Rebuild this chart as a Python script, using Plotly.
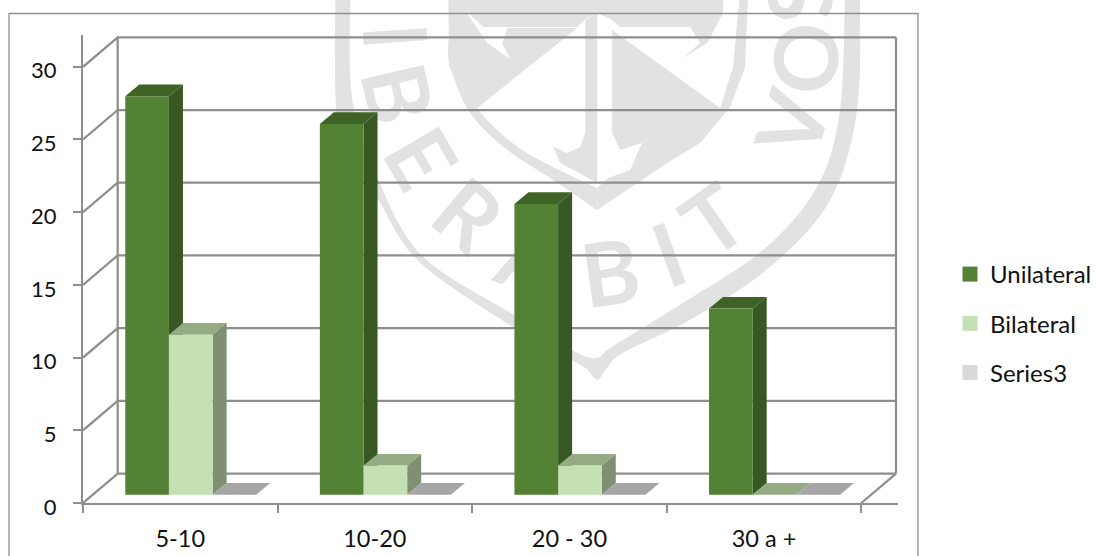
import plotly.graph_objects as go

# Survey counts per tenure band
categories = ["5-10", "10-20", "20 - 30", "30 a +"]
series_names = ["Unilateral", "Bilateral", "Series3"]
unilateral = [27.4, 25.5, 20, 12.8]
bilateral = [11, 2, 2, 0]
series3 = [0, 0, 0, 0]
y_ticks = [0, 5, 10, 15, 20, 25, 30]

# Canvas and plot box, in pixels
W, H = 1096, 556
L, R, T, B = 82.5, 898.0, 35.0, 503.3
PX_PER_CAT = 194.7
PX_PER_VAL = 14.55
x_max = (R - L) / PX_PER_CAT
y_max = (B - T) / PX_PER_VAL

# Oblique projection of the box depth, in axis units
DEPTH_X = 34.7 / PX_PER_CAT
DEPTH_Y = 29.5 / PX_PER_VAL
BAR_W = 43.7 / PX_PER_CAT
GAP = (1 - 3 * BAR_W) / 2
BASE_X = 10.5 / PX_PER_CAT
BASE_Y = 8.3 / PX_PER_VAL
BAR_DX = 14.0 / PX_PER_CAT
BAR_DY = 11.7 / PX_PER_VAL

GRID = "#8e8e8e"
TEXT = "#111111"
SEAL = "#e2e2e2"
FONT = "Lato"

STYLES = [
    {"front": "#548235", "side": "#385723", "top": "#3f6327", "key": "#548235"},
    {"front": "#c5e0b4", "side": "#7f8f72", "top": "#94ab84", "key": "#c5e0b4"},
    {"front": "#d9d9d9", "side": "#8a8a8a", "top": "#a6a6a6", "key": "#d9d9d9"},
]


def px(x):
    return (x - L) / (R - L)


def py(y):
    return (B - y) / (B - T)


def polygon(points):
    return "M" + " L".join(f"{px(a):.5f},{py(b):.5f}" for a, b in points) + " Z"


def smooth(points):
    """Catmull-Rom curve through the points, as SVG path segments."""
    out = []
    for i in range(len(points) - 1):
        p0 = points[max(i - 1, 0)]
        p1 = points[i]
        p2 = points[i + 1]
        p3 = points[min(i + 2, len(points) - 1)]
        c1 = (p1[0] + (p2[0] - p0[0]) / 6, p1[1] + (p2[1] - p0[1]) / 6)
        c2 = (p2[0] - (p3[0] - p1[0]) / 6, p2[1] - (p3[1] - p1[1]) / 6)
        out.append(
            f"C{px(c1[0]):.5f},{py(c1[1]):.5f} {px(c2[0]):.5f},{py(c2[1]):.5f} "
            f"{px(p2[0]):.5f},{py(p2[1]):.5f}"
        )
    return " ".join(out)


def smooth_band(first, second):
    start = f"M{px(first[0][0]):.5f},{py(first[0][1]):.5f} "
    return (
        start + smooth(first)
        + f" L{px(second[0][0]):.5f},{py(second[0][1]):.5f} "
        + smooth(second) + " Z"
    )


# University seal printed behind the chart
seal_paths = [
    smooth_band(
        [(335, -8), (336, 110), (350, 155), (378, 200), (420, 263), (517, 330), (560, 355), (585, 368), (597, 380),
         (607, 368), (623, 353), (690, 320), (770, 267), (830, 200), (857, 110), (860, -8)],
        [(845, -8), (840, 110), (817, 187), (763, 250), (683, 303), (612, 347), (597, 358),
         (575, 352), (517, 317), (423, 257), (378, 180), (352, 100), (350, -8)],
    ),
    polygon([(448, -8), (449, 67), (477, 108), (577, 28), (507, 28), (502, 43), (510, 59), (487, 43), (468, 15), (468, -8)]),
    polygon([(468, -8), (468, 13), (483, 27), (577, 27), (587, 18), (597, 13), (597, -8)]),
    polygon([(597, -8), (597, 13), (612, 20), (620, 27), (690, 27), (700, 43), (683, 58), (707, 43), (723, 13), (723, -8)]),
    polygon([(612, 30), (720, 108), (733, 67), (740, -8), (748, -8), (745, 67), (730, 107), (700, 143), (667, 163),
             (597, 210), (597, 188), (608, 178), (630, 170), (642, 143), (620, 150), (612, 133)]),
    smooth_band(
        [(448, 40), (450, 67), (470, 113), (507, 150), (553, 180), (597, 210)],
        [(597, 188), (553, 167), (515, 145), (477, 108), (458, 60)],
    ),
    polygon([(597, 13), (585, 20), (585, 133), (580, 147), (567, 153), (553, 147), (560, 163), (577, 172), (597, 183)]),
]

# Motto lettering around the seal: glyph, centre x, centre y, rotation
seal_glyphs = [
    ("I", 398, 36, 86), ("B", 400, 93, 77), ("E", 423, 157, 60), ("R", 470, 213, 40),
    ("A", 532, 258, 20), ("B", 610, 270, -8), ("I", 668, 252, -20), ("T", 712, 218, -35),
    ("V", 790, 123, -72), ("O", 803, 58, -85), ("S", 797, -2, -97),
]

shapes = [
    dict(type="path", path=p, xref="paper", yref="paper", fillcolor=SEAL, line=dict(width=0), layer="below")
    for p in seal_paths
]
for glyph, cx, cy, angle in seal_glyphs:
    shapes.append(dict(
        type="rect", xref="paper", yref="paper",
        x0=px(cx - 40), x1=px(cx + 40), y0=py(cy + 40), y1=py(cy - 40),
        line=dict(width=0), fillcolor="rgba(0,0,0,0)", layer="below",
        label=dict(text=glyph, textposition="middle center", textangle=angle,
                   font=dict(family=FONT, size=88, color=SEAL, weight=700)),
    ))

# Outer frame of the chart area; its lower edge lies past the canvas
shapes.append(dict(
    type="path", xref="paper", yref="paper", layer="below",
    path=f"M{px(8.5):.5f},{py(H + 10):.5f} L{px(8.5):.5f},{py(13.5):.5f} "
         f"L{px(918):.5f},{py(13.5):.5f} L{px(918):.5f},{py(H + 10):.5f}",
    line=dict(color="#8f8f8f", width=1.3),
))

fig = go.Figure()


def add_lines(xs, ys, width=2.25):
    fig.add_trace(go.Scatter(x=xs, y=ys, mode="lines", line=dict(color=GRID, width=width),
                             hoverinfo="skip", showlegend=False))


def add_faces(faces, color):
    xs, ys = [], []
    for face in faces:
        xs += [p[0] for p in face] + [face[0][0], None]
        ys += [p[1] for p in face] + [face[0][1], None]
    fig.add_trace(go.Scatter(x=xs, y=ys, mode="lines", fill="toself", fillcolor=color,
                             line=dict(width=0, color=color), hoverinfo="skip", showlegend=False))


# Box walls: back-wall gridlines, left-wall diagonals, floor and corner verticals
x_front_end = float(len(categories))
wall_x, wall_y = [], []
for v in y_ticks:
    wall_x += [0, DEPTH_X, x_front_end + DEPTH_X, None]
    wall_y += [v, v + DEPTH_Y, v + DEPTH_Y, None]
wall_x += [DEPTH_X, DEPTH_X, None, x_front_end + DEPTH_X, x_front_end + DEPTH_X, None, x_front_end, x_front_end + DEPTH_X]
wall_y += [DEPTH_Y, y_ticks[-1] + DEPTH_Y, None, DEPTH_Y, y_ticks[-1] + DEPTH_Y, None, 0, DEPTH_Y]
add_lines(wall_x, wall_y)

# Extruded columns, drawn from the rear-most faces forward within each band
all_series = [unilateral, bilateral, series3]
for c in range(len(categories)):
    for s, values in enumerate(all_series):
        x0 = c + GAP + BASE_X + s * BAR_W
        x1 = x0 + BAR_W
        y0 = BASE_Y
        y1 = BASE_Y + values[c]
        style = STYLES[s]
        if values[c] > 0:
            add_faces([[(x1, y0), (x1 + BAR_DX, y0 + BAR_DY), (x1 + BAR_DX, y1 + BAR_DY), (x1, y1)]], style["side"])
        add_faces([[(x0, y1), (x1, y1), (x1 + BAR_DX, y1 + BAR_DY), (x0 + BAR_DX, y1 + BAR_DY)]], style["top"])
        if values[c] > 0:
            add_faces([[(x0, y0), (x1, y0), (x1, y1), (x0, y1)]], style["front"])

# Square legend keys
for name, style in zip(series_names, STYLES):
    fig.add_trace(go.Scatter(
        x=[None], y=[None], mode="markers", name=name, legendgroup=name,
        marker=dict(symbol="square", size=15, color=style["key"], line=dict(width=0)),
    ))

fig.update_layout(
    width=W, height=H, autosize=False,
    margin=dict(l=L, r=W - R, t=T, b=H - B, pad=0, autoexpand=False),
    paper_bgcolor="white", plot_bgcolor="rgba(0,0,0,0)",
    font=dict(family=FONT, size=22, color=TEXT),
    shapes=shapes,
    hovermode=False,
    showlegend=True,
    legend=dict(
        xref="container", yref="container", x=955 / W, y=1 - 252 / H,
        xanchor="left", yanchor="top", tracegroupgap=15, borderwidth=0, indentation=-5,
        bgcolor="rgba(0,0,0,0)", itemclick=False, itemdoubleclick=False,
        font=dict(family=FONT, size=24, color=TEXT),
    ),
    xaxis=dict(
        range=[0, x_max], showgrid=False, zeroline=False, fixedrange=True, automargin=False,
        showline=True, linecolor=GRID, linewidth=2.25,
        tickmode="array", tickvals=[i + 0.5 for i in range(len(categories))], ticktext=categories,
        ticks="", ticklen=0, ticklabelstandoff=14, tickfont=dict(size=23.5),
        minor=dict(tickmode="array", tickvals=list(range(len(categories) + 1)),
                   ticks="outside", ticklen=8, tickwidth=1.5, tickcolor=GRID, showgrid=False),
    ),
    yaxis=dict(
        range=[0, y_max], showgrid=False, zeroline=False, fixedrange=True, automargin=False,
        showline=True, linecolor=GRID, linewidth=2.25,
        tickmode="array", tickvals=y_ticks,
        ticks="outside", ticklen=8, tickwidth=1.5, tickcolor=GRID, ticklabelstandoff=12, ticklabelshift=4,
    ),
)

fig.write_html("out.html")
